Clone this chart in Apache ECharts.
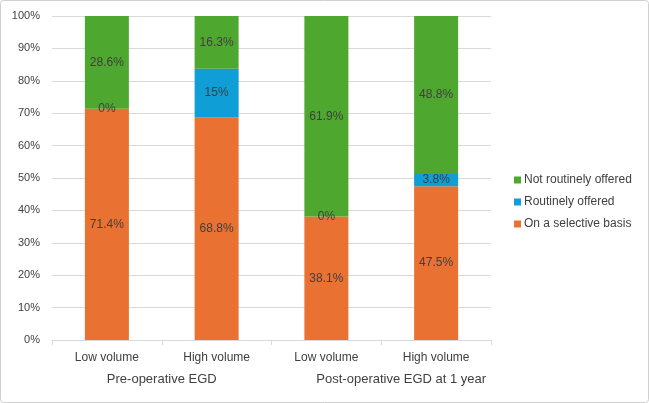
<!DOCTYPE html>
<html>
<head>
<meta charset="utf-8">
<script src="https://cdn.jsdelivr.net/npm/echarts@6/dist/echarts.min.js"></script>
<style>
  html, body { margin: 0; padding: 0; background: #fff; }
  #chart { width: 649px; height: 403px; }
</style>
</head>
<body>
<div id="chart"></div>
<script>
const categories = ['Low volume', 'High volume', 'Low volume', 'High volume'];
const groups = ['Pre-operative EGD', 'Post-operative EGD at 1 year'];
const selectiveBasis = [71.4, 68.8, 38.1, 47.5];
const routinelyOffered = [0, 15, 0, 3.8];
const notRoutinelyOffered = [28.6, 16.3, 61.9, 48.8];
const yTicks = [0, 10, 20, 30, 40, 50, 60, 70, 80, 90, 100];

const textColor = '#404040';
const fontFamily = 'Liberation Sans, Arial, sans-serif';

// 100% stacked: scale each column to its own total, labels keep the raw value
const totals = categories.map((c, i) => selectiveBasis[i] + routinelyOffered[i] + notRoutinelyOffered[i]);
function toShare(arr) {
    return arr.map((v, i) => v / totals[i] * 100);
}

function makeSeries(name, arr, color) {
    return {
        name: name,
        type: 'bar',
        stack: 'all',
        barWidth: 44,
        data: toShare(arr),
        itemStyle: { color: color },
        label: {
            show: true,
            position: 'inside',
            color: textColor,
            fontSize: 12,
            fontFamily: fontFamily,
            formatter: p => arr[p.dataIndex] + '%'
        }
    };
}

const chart = echarts.init(document.getElementById('chart'));
const option = {
    animation: false,
    backgroundColor: '#fff',
    textStyle: { fontFamily: fontFamily },
    graphic: [{
        type: 'rect',
        shape: { x: 0.5, y: 0.5, width: 648, height: 402, r: 3 },
        style: { fill: 'none', stroke: '#d0d0d0', lineWidth: 1 },
        z: -1
    }],
    grid: { left: 52, right: 158, top: 16, bottom: 63 },
    legend: {
        orient: 'vertical',
        left: 509,
        top: 169,
        itemWidth: 7,
        itemHeight: 7,
        itemGap: 10,
        icon: 'rect',
        data: ['Not routinely offered', 'Routinely offered', 'On a selective basis'],
        textStyle: { color: textColor, fontSize: 12, fontFamily: fontFamily, padding: [0, 0, 0, -2] }
    },
    xAxis: [{
        type: 'category',
        data: categories,
        axisLine: { lineStyle: { color: '#d9d9d9' } },
        axisTick: { show: true, length: 5, lineStyle: { color: '#d9d9d9' } },
        axisLabel: { color: textColor, fontSize: 12, margin: 12, interval: 0 }
    }, {
        type: 'category',
        data: groups,
        position: 'bottom',
        offset: 23,
        axisLine: { show: false },
        axisTick: { show: false },
        axisLabel: {
            color: textColor,
            fontSize: 13,
            margin: 10,
            interval: 0,
            hideOverlap: false,
            formatter: (v, i) => i === 1 ? '{b|' + v + '}' : '{a|' + v + '}',
            rich: {
                a: { color: textColor, fontSize: 13 },
                b: { color: textColor, fontSize: 13, padding: [0, 0, 0, 40] }
            }
        }
    }],
    yAxis: {
        type: 'value',
        min: yTicks[0],
        max: yTicks[yTicks.length - 1],
        interval: yTicks[1] - yTicks[0],
        axisLine: { show: false },
        axisTick: { show: false },
        splitLine: { lineStyle: { color: '#d9d9d9' } },
        axisLabel: { color: textColor, fontSize: 11, margin: 12, formatter: '{value}%' }
    },
    series: [
        makeSeries('On a selective basis', selectiveBasis, '#E97132'),
        makeSeries('Routinely offered', routinelyOffered, '#0F9ED5'),
        makeSeries('Not routinely offered', notRoutinelyOffered, '#4EA72E')
    ]
};
chart.setOption(option);
</script>
</body>
</html>
